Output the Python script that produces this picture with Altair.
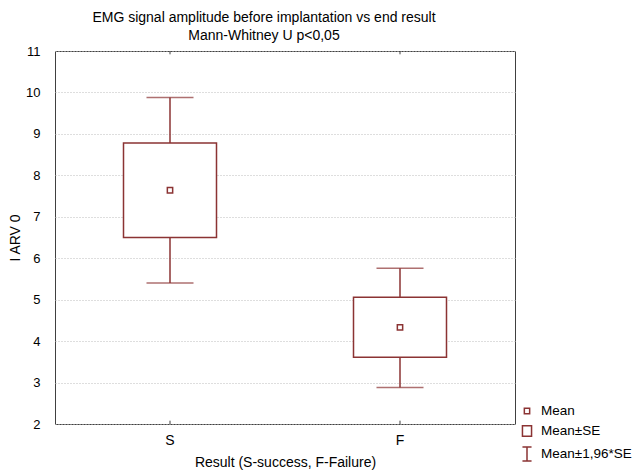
import altair as alt
import pandas as pd

# Group summaries: mean, mean ± SE box, mean ± 1.96*SE whiskers
groups = ["S", "F"]
means = [7.64, 4.33]
se_low = [6.50, 3.61]
se_high = [8.78, 5.06]
ci_low = [5.40, 2.88]
ci_high = [9.88, 5.76]

legend_labels = ["Mean", "Mean±SE", "Mean±1,96*SE"]
y_ticks = [2, 3, 4, 5, 6, 7, 8, 9, 10, 11]

RED = "#8b3333"
FONT = "Liberation Sans"

df = pd.DataFrame({
    "group": groups,
    "mean": means,
    "se_low": se_low,
    "se_high": se_high,
    "ci_low": ci_low,
    "ci_high": ci_high,
    "key": ["Mean"] * len(groups),
})

# Symbol paths for the legend (small square, box, I-beam)
symbol_paths = [
    "M-0.38,-0.38H0.38V0.38H-0.38Z",
    "M-0.65,-0.75H0.65V0.75H-0.65Z",
    "M-0.65,-1H0.65M0,-1V1M-0.65,1H0.65",
]

x_enc = alt.X(
    "group:N",
    sort=groups,
    scale=alt.Scale(domain=groups, paddingInner=0, paddingOuter=0),
    axis=alt.Axis(
        title="Result (S-success, F-Failure)",
        labelAngle=0,
        ticks=False,
        domain=False,
        labelPadding=9,
        titlePadding=8,
        labelFontSize=14,
        titleFontSize=14,
        titleFontWeight="normal",
    ),
)
y_scale = alt.Scale(domain=[2, 11], nice=False, zero=False)
y_axis = alt.Axis(
    title="I ARV 0",
    values=y_ticks,
    ticks=False,
    domain=False,
    labelPadding=15,
    titlePadding=3,
    labelFontSize=13,
    titleFontSize=14,
    titleFontWeight="normal",
    grid=True,
    gridDash=[1, 2],
    gridColor="#bdbdbd",
    gridWidth=1,
)

base = alt.Chart(df)

whisker = base.mark_rule(color=RED, strokeWidth=1.5).encode(
    x=x_enc,
    y=alt.Y("ci_low:Q", scale=y_scale, axis=y_axis),
    y2="ci_high:Q",
)

caps_top = base.mark_tick(color=RED, size=47, thickness=1.5, orient="horizontal").encode(
    x="group:N", y="ci_high:Q"
)
caps_bottom = base.mark_tick(color=RED, size=47, thickness=1.5, orient="horizontal").encode(
    x="group:N", y="ci_low:Q"
)

box = base.mark_bar(size=93, fill="white", stroke=RED, strokeWidth=1.5).encode(
    x="group:N", y="se_low:Q", y2="se_high:Q"
)

mean_pt = base.mark_point(
    filled=False, stroke=RED, strokeWidth=1.5, size=196, opacity=1
).encode(
    x="group:N",
    y="mean:Q",
    shape=alt.Shape(
        "key:N",
        scale=alt.Scale(domain=legend_labels, range=symbol_paths),
        legend=alt.Legend(
            title=None,
            orient="none",
            legendX=464,
            legendY=352,
            padding=0,
            rowPadding=4,
            symbolSize=196,
            symbolStrokeColor=RED,
            symbolFillColor="white",
            symbolStrokeWidth=1.5,
            labelFontSize=13.5,
            labelOffset=6,
            labelColor="black",
        ),
    ),
)

# Small category ticks on the bottom and top edges of the frame
tick_bottom = base.mark_rule(color="#404040", strokeWidth=1).encode(
    x="group:N", y=alt.datum(2.0), y2=alt.datum(2.08)
)
tick_top = base.mark_rule(color="#404040", strokeWidth=1).encode(
    x="group:N", y=alt.datum(11.0), y2=alt.datum(10.92)
)

chart = (
    alt.layer(whisker, caps_top, caps_bottom, box, mean_pt, tick_bottom, tick_top)
    .properties(
        width=460,
        height=373,
        autosize=alt.AutoSizeParams(type="none"),
        padding={"left": 55, "top": 51, "right": 117, "bottom": 49},
        title=alt.TitleParams(
            text=["EMG signal amplitude before implantation vs end result",
                  "Mann-Whitney U p<0,05"],
            fontSize=14,
            fontWeight="normal",
            lineHeight=18,
            anchor="middle",
            dx=-21,
            offset=2,
            color="black",
        ),
    )
    .configure(font=FONT, background="white")
    .configure_view(stroke="#404040", strokeWidth=1)
    .configure_axis(labelColor="black", titleColor="black", labelFont=FONT, titleFont=FONT)
    .configure_legend(labelFont=FONT)
    .configure_title(font=FONT)
)

chart.save("out.html", embed_options={"renderer": "svg", "actions": False})
